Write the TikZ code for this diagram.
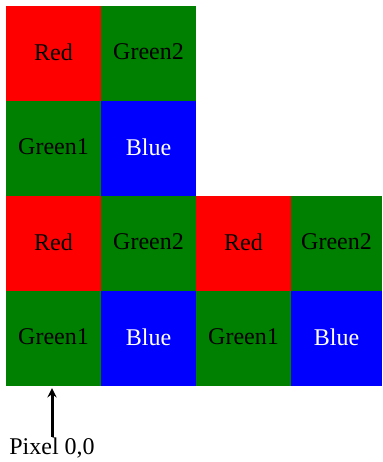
\documentclass[tikz,border=0pt]{standalone}
\usepackage{fontspec}
\setmainfont{Liberation Serif}
\usetikzlibrary{positioning}
\definecolor{pxred}{HTML}{FF0000}
\definecolor{pxgreen}{HTML}{008000}
\definecolor{pxblue}{HTML}{0000FF}
\tikzset{cell/.style={minimum width=95pt,minimum height=95pt,inner sep=0pt,
  font=\fontsize{24}{28}\selectfont,text=black,text depth=3pt}}
\tikzset{redcell/.style={cell,fill=pxred}}
\tikzset{greencell/.style={cell,fill=pxgreen}}
\tikzset{bluecell/.style={cell,fill=pxblue,text=white}}
\tikzset{>=stealth}

\begin{document}
\begin{tikzpicture}[x=1pt,y=-1pt]
            \useasboundingbox (0,0) rectangle (382,462);
            % top block
            \node[redcell]   (r1)  at (53.5,53.5)   {Red};
            \node[greencell] (ga1) at (148.5,53.5)  {Green2};
            \node[greencell] (gb1) at (53.5,148.5)  {Green1};
            \node[bluecell]  (b1)  at (148.5,148.5) {Blue};
            % bottom left block
            \node[redcell]   (r2)  at (53.5,243.5)  {Red};
            \node[greencell] (ga2) at (148.5,243.5) {Green2};
            \node[greencell] (gb2) at (53.5,338.5)  {Green1};
            \node[bluecell]  (b2)  at (148.5,338.5) {Blue};
            % bottom right block
            \node[redcell]   (r3)  at (243.5,243.5) {Red};
            \node[greencell,minimum width=91pt] (ga3) at (336.5,243.5) {Green2};
            \node[greencell] (gb3) at (243.5,338.5) {Green1};
            \node[bluecell,minimum width=91pt]  (b3)  at (336.5,338.5) {Blue};
            % origin
            \node[inner sep=1pt,font=\fontsize{24}{28}\selectfont] (pix) at (52,448) {Pixel 0,0};
            \draw [line width=3pt,->,shorten >=2pt] (pix.north) -- (pix.north |- gb2.south);
        \end{tikzpicture}
\end{document}
